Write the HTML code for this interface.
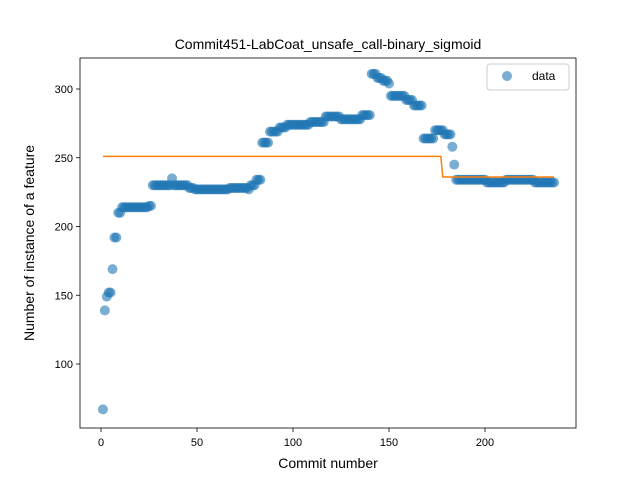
<!DOCTYPE html>
<html><head><meta charset="utf-8"><style>
body{margin:0;background:#fff}
svg{font-family:"Liberation Sans","DejaVu Sans",sans-serif}
</style></head><body>
<svg id="chart" width="640" height="480">
<rect width="640" height="480" fill="#fff"/>
<g id="plot"></g>
</svg>
<script>
const values=[67,139,149,152,152,169,192,192,210,210,
214,214,214,214,214,214,214,214,214,214,
214,214,214,214,215,215,230,230,230,230,
230,230,230,230,230,230,235,230,230,230,
230,230,230,230,230,228,228,228,227,227,
227,227,227,227,227,227,227,227,227,227,
227,227,227,227,227,227,228,228,228,228,
228,228,228,228,228,228,227,230,230,230,
234,234,234,261,261,261,261,269,269,269,
269,269,272,272,272,272,274,274,274,274,
274,274,274,274,274,274,274,274,276,276,
276,276,276,276,276,276,280,280,280,280,
280,280,280,280,278,278,278,278,278,278,
278,278,278,278,278,281,281,281,281,281,
311,311,311,308,308,308,306,306,306,304,
295,295,295,295,295,295,295,295,292,292,
292,292,288,288,288,288,288,264,264,264,
264,264,264,270,270,270,270,270,267,267,
267,267,258,245,234,234,234,234,234,234,
234,234,234,234,234,234,234,234,234,234,
232,232,232,232,232,232,232,232,232,232,
234,234,234,234,234,234,234,234,234,234,
234,234,234,234,234,232,232,232,232,232,
232,232,232,232,232,232];
const fitX=[1,177,178,236];
const fitY=[251,251,236,236];
const xTicks=[0,50,100,150,200];
const yTicks=[100,150,200,250,300];

const L=80,R=576,T=58,B=428;
const xs=v=>101+1.92*v;
const ys=v=>89+(300-v)*1.375;
const NS="http://www.w3.org/2000/svg";
const g=document.getElementById('plot');
function mk(t,a,p){const e=document.createElementNS(NS,t);for(const k in a)e.setAttribute(k,a[k]);(p||g).appendChild(e);return e;}

xTicks.forEach(v=>{
  const x=xs(v);
  const tk=mk('line',{x1:x,x2:x,y1:B,y2:B+4,stroke:'#000','stroke-width':0.8});
  
  
  const t=mk('text',{x:x,y:B+18,'text-anchor':'middle','font-size':11});
  t.textContent=v;
  
  
});
yTicks.forEach(v=>{
  const y=ys(v);
  const tk=mk('line',{x1:L-4,x2:L,y1:y,y2:y,stroke:'#000','stroke-width':0.8});
  
  
  const t=mk('text',{x:L-7,y:y+4,'text-anchor':'end','font-size':11});
  t.textContent=v;
  
  
});

values.forEach((v,i)=>{
  const c=mk('circle',{cx:xs(i+1),cy:ys(v),r:5,fill:'#1f77b4','fill-opacity':0.6});
  
  
});

const pts=fitX.map((x,i)=>xs(x)+','+ys(fitY[i])).join(' ');
const pl=mk('polyline',{points:pts,fill:'none',stroke:'#ff7f0e','stroke-width':1.5});



const fr=mk('rect',{x:L,y:T,width:R-L,height:B-T,fill:'none',stroke:'#000','stroke-width':0.8});



const ti=mk('text',{x:(L+R)/2,y:49,'text-anchor':'middle','font-size':14});
ti.textContent='Commit451-LabCoat_unsafe_call-binary_sigmoid';


const xl=mk('text',{x:(L+R)/2,y:468,'text-anchor':'middle','font-size':14});
xl.textContent='Commit number';


const yl=mk('text',{x:0,y:0,'text-anchor':'middle','font-size':14,transform:'translate(34,243) rotate(-90)'});
yl.textContent='Number of instance of a feature';



const lg=mk('g',{});


mk('rect',{x:487,y:64,width:82,height:26,rx:3,fill:'#fff',stroke:'#ccc','stroke-width':1},lg);
const lc=mk('circle',{cx:507,cy:76,r:5,fill:'#1f77b4','fill-opacity':0.6},lg);


const lt=mk('text',{x:532,y:80,'font-size':12},lg);
lt.textContent='data';


</script>
</body></html>
